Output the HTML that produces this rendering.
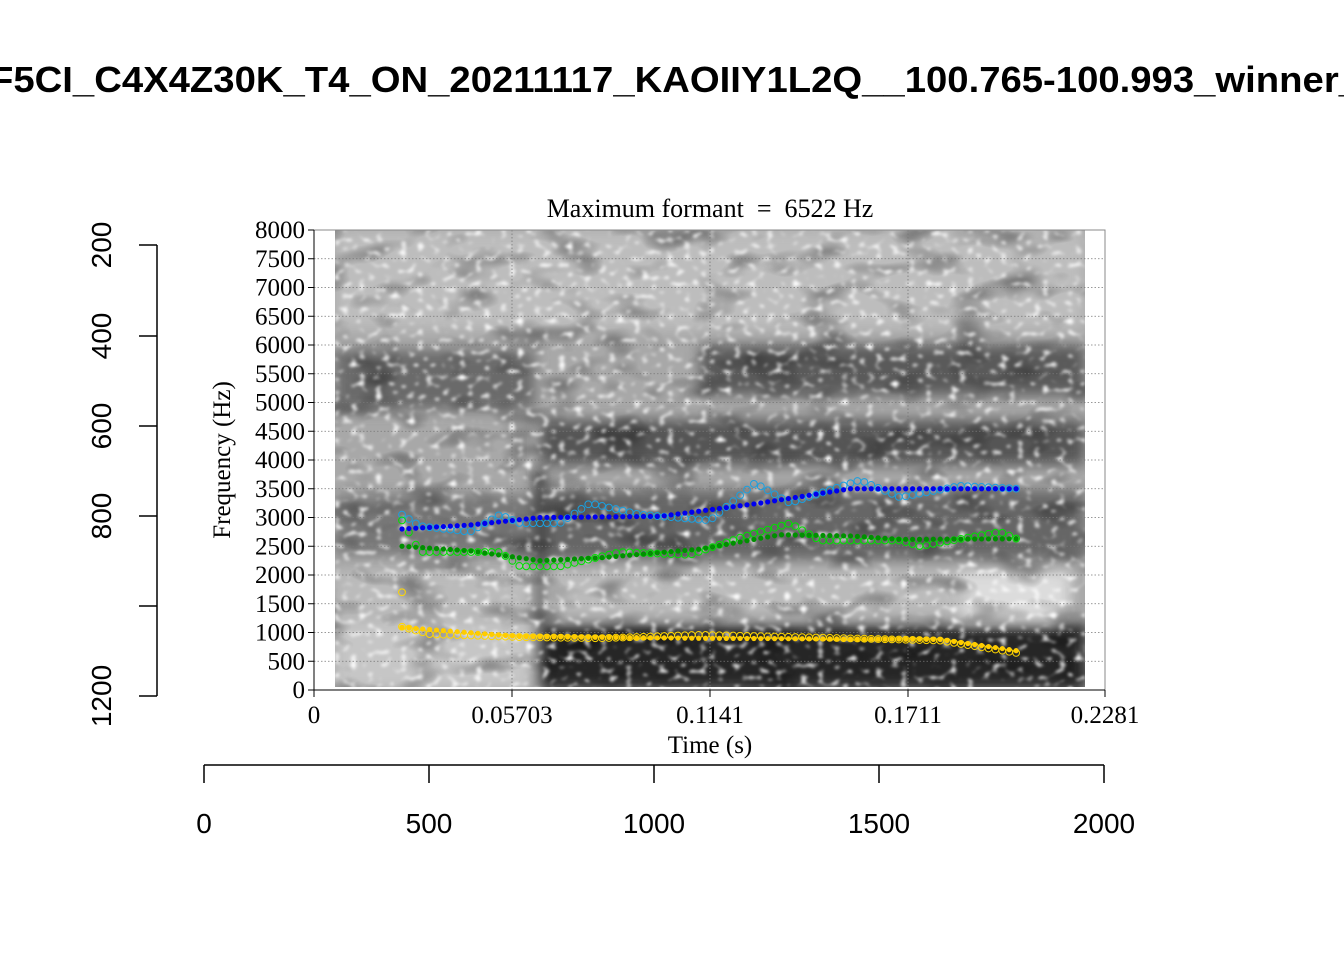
<!DOCTYPE html>
<html><head><meta charset="utf-8"><style>
html,body{margin:0;padding:0;background:#fff;width:1344px;height:960px;overflow:hidden}
</style></head><body>
<svg id="s" width="1344" height="960" xmlns="http://www.w3.org/2000/svg">
<defs>
<filter id="blur6"><feGaussianBlur stdDeviation="7"/></filter>
<filter id="spk" x="0" y="0" width="100%" height="100%">
<feTurbulence type="fractalNoise" baseFrequency="0.12 0.16" numOctaves="1" seed="4"/>
<feColorMatrix type="matrix" values="0 0 0 0 1  0 0 0 0 1  0 0 0 0 1  1 0 0 0 0"/>
<feComponentTransfer><feFuncA type="linear" slope="4" intercept="-2.2"/></feComponentTransfer>
<feGaussianBlur stdDeviation="1.4"/>
</filter>
<filter id="dk" x="0" y="0" width="100%" height="100%">
<feTurbulence type="fractalNoise" baseFrequency="0.02 0.04" numOctaves="2" seed="9"/>
<feColorMatrix type="matrix" values="0 0 0 0 0  0 0 0 0 0  0 0 0 0 0  1.0 0 0 0 -0.5"/>
</filter>
<clipPath id="cp"><rect x="335" y="230" width="750" height="457"/></clipPath>
</defs>
<text x="-10" y="92" textLength="1370" lengthAdjust="spacingAndGlyphs" font-family="Liberation Sans, sans-serif" font-weight="bold" font-size="36">F5CI_C4X4Z30K_T4_ON_20211117_KAOIIY1L2Q__100.765-100.993_winner_</text>
<g clip-path="url(#cp)">
<rect x="335" y="230" width="750" height="460" fill="#a8a8a8"/>
<g filter="url(#blur6)">
<rect x="335" y="230" width="750" height="100" fill="#bdbdbd"/>
<rect x="335" y="350" width="200" height="60" fill="#6a6a6a"/>
<rect x="700" y="345" width="385" height="50" fill="#5a5a5a"/>
<rect x="540" y="420" width="545" height="45" fill="#555"/>
<rect x="540" y="490" width="545" height="70" fill="#666"/>
<rect x="335" y="495" width="205" height="60" fill="#777"/>
<rect x="335" y="570" width="700" height="45" fill="#bbb"/>
<rect x="540" y="625" width="545" height="65" fill="#252525"/>
<rect x="335" y="620" width="205" height="70" fill="#c6c6c6"/>
<rect x="535" y="470" width="10" height="220" fill="#222"/>
<rect x="960" y="570" width="110" height="50" fill="#dcdcdc"/>
</g>
<rect x="335" y="230" width="750" height="460" filter="url(#dk)"/>
<rect x="335" y="230" width="750" height="460" filter="url(#spk)"/>
</g>
<g id="grid" stroke="#777" stroke-width="0.8" stroke-dasharray="1.5,2"></g>
<rect x="314" y="230" width="791" height="460" fill="none" stroke="#888" stroke-width="1"/>
<line x1="314" y1="230" x2="314" y2="690" stroke="#000"/>
<line x1="314" y1="690" x2="1105" y2="690" stroke="#000"/>
<g id="yt" font-family="Liberation Serif, serif" font-size="25" text-anchor="end"></g>
<g id="xt" font-family="Liberation Serif, serif" font-size="25" text-anchor="middle">
<text x="314" y="723">0</text><text x="512" y="723">0.05703</text><text x="710" y="723">0.1141</text><text x="908" y="723">0.1711</text><text x="1105" y="723">0.2281</text>
<text x="710" y="753">Time (s)</text>
<text x="710" y="217" font-size="26" xml:space="preserve">Maximum formant  =  6522 Hz</text>
</g>
<text transform="translate(230,460) rotate(-90)" font-family="Liberation Serif, serif" font-size="25" text-anchor="middle">Frequency (Hz)</text>
<g id="dots"></g>
<g stroke="#000" stroke-width="1.5" fill="none">
<line x1="157" y1="245" x2="157" y2="696"/>
<line x1="204" y1="765" x2="1104" y2="765"/>
</g>
<g id="ax" font-family="Liberation Sans, sans-serif" font-size="28" text-anchor="middle"></g>
</svg>
<script>
var N="http://www.w3.org/2000/svg";
function el(p,t,a,txt){var e=document.createElementNS(N,t);for(var k in a)e.setAttribute(k,a[k]);if(txt!=null)e.textContent=txt;document.getElementById(p).appendChild(e);}
function fy(f){return 690-f/8000*460;}
for(var f=0;f<=8000;f+=500){var y=fy(f);el('yt','text',{x:305,y:y+8},f);el('yt','line',{x1:308,y1:y,x2:314,y2:y,stroke:'#000'});
 if(f>0&&f<8000)el('grid','line',{x1:314,y1:y,x2:1105,y2:y});}
[512,710,908].forEach(function(x){el('grid','line',{x1:x,y1:230,x2:x,y2:690});});
[314,512,710,908,1105].forEach(function(x){el('xt','line',{x1:x,y1:690,x2:x,y2:697,stroke:'#000'});});
var L=[[245,'200'],[336,'400'],[426,'600'],[516,'800'],[606,''],[696,'1200']];
L.forEach(function(a){el('ax','line',{x1:139,y1:a[0],x2:157,y2:a[0],stroke:'#000','stroke-width':1.5});
 if(a[1])el('ax','text',{transform:'translate(111,'+a[0]+') rotate(-90)'},a[1]);});
[0,500,1000,1500,2000].forEach(function(v,i){var x=204+i*225;el('ax','line',{x1:x,y1:765,x2:x,y2:783,stroke:'#000','stroke-width':1.5});el('ax','text',{x:x,y:833},v);});
function interp(pts,x){for(var i=0;i<pts.length-1;i++){if(x<=pts[i+1][0]){var t=(x-pts[i][0])/(pts[i+1][0]-pts[i][0]);return pts[i][1]+t*(pts[i+1][1]-pts[i][1]);}}return pts[pts.length-1][1];}
var F1=[[402,1090],[460,1010],[520,930],[700,900],[940,880],[1018,680]];
var F2=[[402,2500],[470,2420],[540,2250],[600,2300],[700,2450],[780,2700],[850,2680],[900,2620],[1018,2630]];
var F3=[[402,2800],[470,2870],[540,3000],[660,3020],[760,3250],[850,3500],[1018,3500]];
var O1=[[402,1100],[430,970],[520,920],[600,900],[700,960],[800,920],[940,860],[1018,640]];
var O2=[[402,2950],[420,2400],[500,2400],[520,2150],[560,2150],[620,2400],[690,2350],[740,2650],[790,2900],[820,2600],[900,2600],[920,2500],[1000,2750],[1018,2620]];
var O3=[[402,3050],[420,2850],[470,2750],[500,3050],[520,2900],[560,2900],[590,3250],[640,3050],[710,2950],[755,3600],[790,3250],[860,3650],[900,3350],[960,3550],[1018,3500]];
function track(pts,fill){for(var x=402;x<=1019;x+=6.9){
 el('dots','circle',{cx:x,cy:fy(interp(pts,x)),r:2.6,fill:fill});}}
function otrack(pts,col){for(var x=402;x<=1019;x+=6.9){el('dots','circle',{cx:x,cy:fy(interp(pts,x)),r:3.4,fill:'none',stroke:col,'stroke-width':1});}}
otrack(O3,'#1aa0e0');otrack(O2,'#00e000');otrack(O1,'#ffd700');
track(F3,'#0000ee');track(F2,'#009000');track(F1,'#ffcc00');
el('dots','circle',{cx:402,cy:fy(1700),r:3.4,fill:'none',stroke:'#ffd700'});
</script>
</body></html>
